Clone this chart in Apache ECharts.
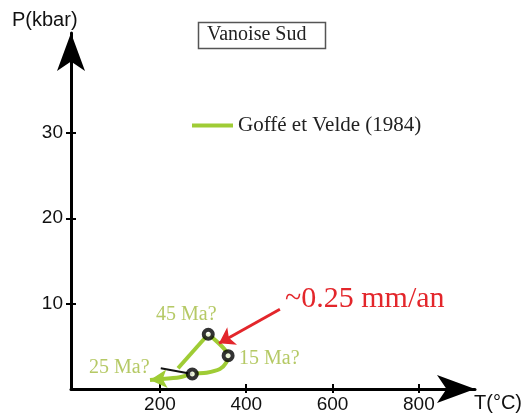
<!DOCTYPE html>
<html>
<head>
<meta charset="utf-8">
<script src="https://cdn.jsdelivr.net/npm/echarts@6/dist/echarts.min.js"></script>
<style>
  html, body { margin: 0; padding: 0; background: #fff; }
  #chart { width: 522px; height: 419px; }
</style>
</head>
<body>
<div id="chart"></div>
<script>
// tick labels
var xTicks = [200, 400, 600, 800];
var yTicks = [10, 20, 30];

// P-T path (T in °C, P in kbar)
var progradePath = [[242, 2.43], [312, 6.41]];
var retroPath = [[312, 6.41], [358, 3.9], [353, 3.05], [339, 2.34], [308, 1.91],
                 [275, 1.76], [246, 1.37], [205, 1.16]];
var arrowEnd = [[205, 1.16], [177, 1.05]];

// dated points
var agePoints = [[312, 6.41], [358, 3.9], [275, 1.76]];

// pointer lines
var pointer25 = [[202, 2.43], [275, 1.76]];
var rateArrow = [[478, 9.34], [337, 5.36]];

var GREEN = '#9fcc35';
var GREEN_TXT = '#b5c965';
var RED = '#e3262b';
var SANS = '"Liberation Sans", Arial, sans-serif';
var SERIF = '"Liberation Serif", "Times New Roman", serif';

var X_MIN = -6, X_MAX = 930, Y_MIN = 0, Y_MAX = 41.7;

var chart = echarts.init(document.getElementById('chart'));

var tickStyle = { color: '#000', width: 2 };

var option = {
    animation: false,
    grid: { left: 71, top: 33, width: 404, height: 356 },
    legend: {
        left: 187, top: 110,
        data: ['Goffé et Velde (1984)'],
        icon: 'rect',
        itemWidth: 41, itemHeight: 4,
        itemGap: 4,
        textStyle: { fontFamily: SERIF, fontSize: 21, color: '#222' }
    },
    xAxis: [
        {
            type: 'value', min: X_MIN, max: X_MAX,
            axisLine: { show: true, onZero: false, lineStyle: { color: '#000', width: 3 },
                        symbol: ['none', 'arrow'], symbolSize: [21, 38] },
            axisTick: { show: true, inside: false, length: 4, customValues: xTicks, lineStyle: tickStyle },
            axisLabel: { customValues: xTicks, margin: 6, fontFamily: SANS, fontSize: 19, color: '#111' },
            splitLine: { show: false }
        },
        {
            type: 'value', min: X_MIN, max: X_MAX, position: 'bottom',
            axisLine: { show: false, onZero: false },
            axisTick: { show: true, inside: true, length: 5, customValues: xTicks, lineStyle: tickStyle },
            axisLabel: { show: false },
            splitLine: { show: false }
        }
    ],
    yAxis: [
        {
            type: 'value', min: Y_MIN, max: Y_MAX,
            axisLine: { show: true, onZero: false, lineStyle: { color: '#000', width: 3 },
                        symbol: ['none', 'arrow'], symbolSize: [21, 38] },
            axisTick: { show: true, inside: false, length: 5, customValues: yTicks, lineStyle: tickStyle },
            axisLabel: { customValues: yTicks, margin: 8, fontFamily: SANS, fontSize: 19, color: '#111' },
            splitLine: { show: false }
        },
        {
            type: 'value', min: Y_MIN, max: Y_MAX, position: 'left',
            axisLine: { show: false, onZero: false },
            axisTick: { show: true, inside: true, length: 5, customValues: yTicks, lineStyle: tickStyle },
            axisLabel: { show: false },
            splitLine: { show: false }
        }
    ],
    series: [
        {
            name: 'Goffé et Velde (1984)',
            type: 'line',
            data: progradePath,
            symbol: 'none',
            itemStyle: { color: GREEN },
            lineStyle: { color: GREEN, width: 4 },
            z: 3
        },
        {
            name: 'Goffé et Velde (1984)',
            type: 'line',
            data: retroPath,
            smooth: 0.25,
            symbol: 'none',
            itemStyle: { color: GREEN },
            lineStyle: { color: GREEN, width: 4 },
            z: 3,
            markLine: {
                silent: true,
                symbol: ['none', 'arrow'],
                symbolSize: [14, 17],
                label: { show: false },
                lineStyle: { color: GREEN, width: 4, type: 'solid' },
                data: [[{ coord: arrowEnd[0] }, { coord: arrowEnd[1] }]]
            }
        },
        {
            name: 'pointer',
            type: 'line',
            data: pointer25,
            symbol: 'none',
            lineStyle: { color: '#111', width: 2 },
            z: 4
        },
        {
            name: 'rate',
            type: 'line',
            data: [],
            markLine: {
                silent: true,
                symbol: ['none', 'arrow'],
                symbolSize: 15,
                label: { show: false },
                lineStyle: { color: RED, width: 3, type: 'solid' },
                data: [[{ coord: rateArrow[0] }, { coord: rateArrow[1] }]]
            }
        },
        {
            name: 'ages',
            type: 'scatter',
            data: agePoints,
            symbol: 'circle',
            symbolSize: 9,
            itemStyle: { color: '#fff', borderColor: '#000', borderWidth: 4 },
            z: 5
        },
        {
            // keeps the second (inner tick) axes alive
            name: 'ticks',
            type: 'scatter',
            xAxisIndex: 1,
            yAxisIndex: 1,
            data: [[X_MIN, Y_MIN], [X_MAX, Y_MAX]],
            symbolSize: 0,
            silent: true
        }
    ],
    graphic: [
        { type: 'text', left: 12, top: 10,
          style: { text: 'P(kbar)', font: '20px ' + SANS, fill: '#111' } },
        { type: 'text', left: 474, top: 393,
          style: { text: 'T(°C)', font: '20px ' + SANS, fill: '#111' } },
        { type: 'rect', shape: { x: 198.5, y: 22.5, width: 127, height: 26 },
          style: { fill: '#fff', stroke: '#555', lineWidth: 1.5 } },
        { type: 'text', left: 207, top: 25,
          style: { text: 'Vanoise Sud', font: '20px ' + SERIF, fill: '#222' } },
        { type: 'text', left: 285, top: 284,
          style: { text: '~0.25 mm/an', font: '30px ' + SERIF, fill: RED } },
        { type: 'text', left: 156, top: 305,
          style: { text: '45 Ma?', font: '20px ' + SERIF, fill: GREEN_TXT } },
        { type: 'text', left: 239, top: 349,
          style: { text: '15 Ma?', font: '20px ' + SERIF, fill: GREEN_TXT } },
        { type: 'text', left: 89, top: 358,
          style: { text: '25 Ma?', font: '20px ' + SERIF, fill: GREEN_TXT } }
    ]
};

chart.setOption(option);
</script>
</body>
</html>
